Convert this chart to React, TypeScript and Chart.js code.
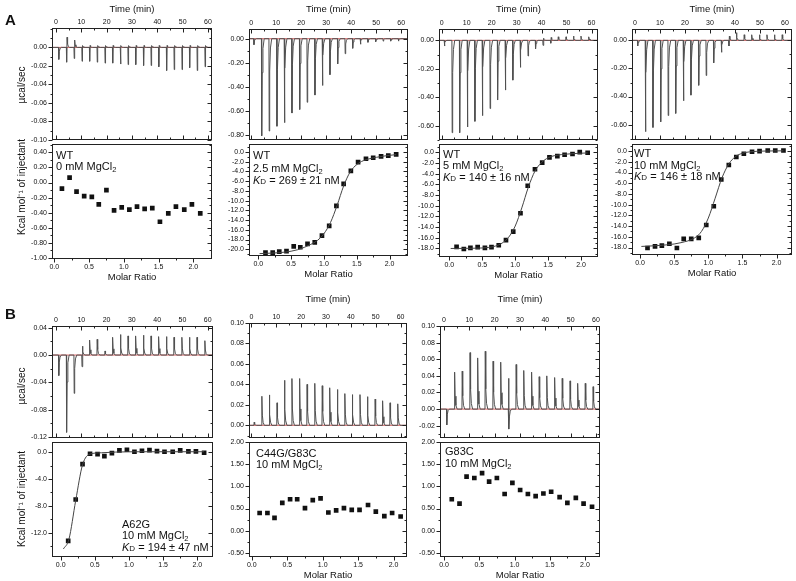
import React, { useEffect, useRef } from 'react';
import { Chart, registerables } from 'chart.js';
Chart.register(...registerables);

const FONT = "'Liberation Sans', Arial, Helvetica, sans-serif";

// ---------------- data ----------------
const injTimes = [1.0, 4.1, 7.1, 10.2, 13.2, 16.2, 19.3, 22.3, 25.4, 28.4, 31.4, 34.5, 37.5, 40.5, 43.6, 46.6, 49.7, 52.7, 55.7, 58.8];
const molarRatio = [0.11, 0.22, 0.32, 0.43, 0.54, 0.64, 0.75, 0.86, 0.97, 1.08, 1.19, 1.30, 1.41, 1.52, 1.64, 1.75, 1.87, 1.98, 2.10];

// raw thermogram peak heights (µcal/sec) per injection
const a1Peaks = [-0.013, -0.016, -0.012, -0.015, -0.015, -0.016, -0.017, -0.017, -0.018, -0.0186, -0.0186, -0.0196, -0.0196, -0.021, -0.025, -0.024, -0.024, -0.022, -0.025, -0.021];
const a1Peaks2 = [0, 0.011, 0.008, 0.002, 0.002, 0.002, 0.002, 0.002, 0.002, 0.002, 0.002, 0.002, 0.002, 0.002, 0.002, 0.002, 0.002, 0.002, 0.002, 0.002];
const a2Peaks = [-0.05, -0.81, -0.77, -0.73, -0.70, -0.62, -0.59, -0.53, -0.47, -0.39, -0.30, -0.21, -0.125, -0.08, -0.046, -0.03, -0.025, -0.02, -0.02, -0.02];
const a3Peaks = [-0.04, -0.65, -0.65, -0.61, -0.57, -0.53, -0.48, -0.42, -0.35, -0.28, -0.19, -0.11, -0.06, -0.035, -0.02, 0.025, 0.025, 0.03, 0.03, 0.025];
const a3Peaks2 = [0, 0, 0, 0, 0, 0, 0, 0, 0, 0, 0, 0, 0, 0.015, 0.02, 0, 0, 0, 0, 0];
const a4Peaks = [-0.04, -0.65, -0.62, -0.58, -0.535, -0.52, -0.43, -0.39, -0.32, -0.25, -0.16, -0.085, -0.04, 0.055, 0.04, 0.04, 0.04, 0.04, 0.04, 0.04];
const a4Peaks2 = [0, 0, 0, 0, 0, 0, 0, 0, 0, 0, 0, 0, 0.03, 0, 0, 0, 0, 0, 0, 0];
const b1Peaks = [-0.03, -0.113, -0.056, -0.017, 0.022, 0.023, 0.006, 0.026, 0.030, 0.028, 0.028, 0.029, 0.028, 0.027, 0.027, 0.026, 0.026, 0.026, 0.026, 0.021];
const b1Peaks2 = [0, 0, 0, 0.013, 0, 0, 0, 0, 0, 0, 0, 0, 0, 0, 0, 0, 0, 0, 0, 0];
const b2Peaks = [0.003, 0.0284, 0.0297, 0.022, 0.044, 0.0457, 0.0457, 0.040, 0.041, 0.0387, 0.0367, 0.035, 0.031, 0.030, 0.030, 0.028, 0.0256, 0.024, 0.022, 0.021];
const b3Peaks = [-0.019, 0.0445, 0.0457, 0.068, 0.0616, 0.0696, 0.0577, 0.0565, 0.037, 0.0537, 0.0465, 0.0445, 0.039, 0.040, 0.038, 0.037, 0.034, 0.031, 0.031, 0.027];
const b3Peaks2 = [0, 0, 0, 0, 0, 0, 0, 0, -0.024, 0, 0, 0, 0, 0, 0, 0, 0, 0, 0, 0];

// integrated heats (kcal/mol of injectant)
const a1Heat = [-0.08, 0.065, -0.12, -0.18, -0.19, -0.29, -0.10, -0.37, -0.33, -0.36, -0.32, -0.35, -0.34, -0.52, -0.41, -0.32, -0.36, -0.29, -0.41];
const a2Heat = [-20.7, -20.7, -20.5, -20.4, -19.4, -19.6, -18.9, -18.6, -17.2, -15.2, -11.1, -6.55, -3.9, -2.1, -1.4, -1.2, -0.9, -0.75, -0.5];
const a3Heat = [-17.7, -18.1, -17.9, -17.75, -17.9, -17.75, -17.4, -16.45, -14.85, -11.4, -6.25, -3.15, -1.9, -0.93, -0.68, -0.43, -0.3, 0.06, -0.06];
const a4Heat = [-18.1, -17.8, -17.65, -17.3, -18.1, -16.4, -16.4, -16.2, -13.8, -10.3, -5.3, -2.6, -1.1, -0.5, -0.12, 0, 0.12, 0.12, 0.12];
const b1Heat = [-13.2, -7.05, -1.8, -0.25, -0.3, -0.6, -0.15, 0.25, 0.35, 0.05, 0.2, 0.3, 0.15, 0.05, 0.05, 0.25, 0.1, 0.1, -0.1];
const b2Heat = [0.40, 0.40, 0.29, 0.63, 0.71, 0.71, 0.51, 0.69, 0.73, 0.41, 0.46, 0.51, 0.47, 0.47, 0.58, 0.43, 0.33, 0.40, 0.32];
const b3Heat = [0.71, 0.61, 1.22, 1.19, 1.30, 1.11, 1.19, 0.83, 1.08, 0.92, 0.83, 0.78, 0.84, 0.88, 0.76, 0.63, 0.74, 0.61, 0.54];

// fitted curves
const a2FitX = [0.02, 0.2, 0.4, 0.6, 0.8, 0.9, 1.0, 1.1, 1.2, 1.3, 1.4, 1.5, 1.6, 1.8, 2.0, 2.1];
const a2FitY = [-20.9, -20.8, -20.6, -20.1, -19.0, -18.2, -16.8, -14.5, -11.0, -7.0, -4.1, -2.6, -1.8, -1.1, -0.7, -0.55];
const a3FitX = [0.02, 0.4, 0.6, 0.7, 0.8, 0.9, 1.0, 1.1, 1.2, 1.3, 1.4, 1.5, 1.6, 1.8, 2.0, 2.1];
const a3FitY = [-18.0, -17.95, -17.8, -17.55, -17.0, -15.9, -13.8, -10.4, -6.5, -3.5, -1.9, -1.0, -0.6, -0.3, -0.15, -0.1];
const a4FitX = [0.02, 0.4, 0.6, 0.8, 0.9, 1.0, 1.1, 1.2, 1.3, 1.4, 1.5, 1.6, 1.8, 2.1];
const a4FitY = [-17.8, -17.5, -17.1, -16.2, -15.0, -12.5, -8.8, -5.0, -2.4, -1.0, -0.4, -0.15, 0.0, 0.05];
const b1FitX = [0.04, 0.12, 0.22, 0.32, 0.43, 0.6, 0.8, 1.2, 2.1];
const b1FitY = [-14.4, -13.0, -7.2, -1.9, -0.3, -0.1, 0.0, 0.05, 0.05];

// tick values
const timeMajor = [0, 10, 20, 30, 40, 50, 60];
const timeMinor = [5, 15, 25, 35, 45, 55];
const molarMajor = [0, 0.5, 1, 1.5, 2];
const molarMinor = [0.25, 0.75, 1.25, 1.75];
const a1RawMajor = [-0.1, -0.08, -0.06, -0.04, -0.02, 0];
const a1RawMinor = [-0.09, -0.07, -0.05, -0.03, -0.01, 0.01, 0.02];
const a2RawMajor = [-0.8, -0.6, -0.4, -0.2, 0];
const a2RawMinor = [-0.7, -0.5, -0.3, -0.1];
const a34RawMajor = [-0.6, -0.4, -0.2, 0];
const a34RawMinor = [-0.7, -0.5, -0.3, -0.1];
const b1RawMajor = [-0.12, -0.08, -0.04, 0, 0.04];
const b1RawMinor = [-0.1, -0.06, -0.02, 0.02];
const b2RawMajor = [0, 0.02, 0.04, 0.06, 0.08, 0.1];
const b2RawMinor = [-0.01, 0.01, 0.03, 0.05, 0.07, 0.09];
const b3RawMajor = [-0.02, 0, 0.02, 0.04, 0.06, 0.08, 0.1];
const b3RawMinor = [-0.03, -0.01, 0.01, 0.03, 0.05, 0.07, 0.09];
const a1HeatMajor = [-1, -0.8, -0.6, -0.4, -0.2, 0, 0.2, 0.4];
const a1HeatMinor = [-0.9, -0.7, -0.5, -0.3, -0.1, 0.1, 0.3, 0.5];
const kcal20Major = [-20, -18, -16, -14, -12, -10, -8, -6, -4, -2, 0];
const kcal18Major = [-18, -16, -14, -12, -10, -8, -6, -4, -2, 0];
const kcalOddMinor = [-21, -19, -17, -15, -13, -11, -9, -7, -5, -3, -1, 1];
const b1HeatMajor = [-12, -8, -4, 0];
const b1HeatMinor = [-14, -10, -6, -2];
const bHeatMajor = [-0.5, 0, 0.5, 1, 1.5, 2];
const bHeatMinor = [-0.25, 0.25, 0.75, 1.25, 1.75];

// ---------------- helpers ----------------
type Pt = { x: number; y: number };
interface AxisSpec { min: number; max: number; major: number[]; minor: number[]; dec: number; title?: string; titleAt?: number }
interface NotePart { t: string; italic?: boolean; size?: number; dy?: number }
interface PanelSpec {
  kind: 'raw' | 'iso';
  rowTop: number;
  l: number; t: number; r: number; b: number;
  x: AxisSpec; y: AxisSpec;
  datasets: any[];
  notes?: { x: number; y: number; gap: number; lines: NotePart[][] };
}

function rawTrace(xmin: number, xmax: number, peaks: number[], peaks2?: number[]): Pt[] {
  const pts: Pt[] = [{ x: xmin, y: 0 }];
  injTimes.forEach((t, i) => {
    const p = peaks[i];
    const q = peaks2 ? peaks2[i] : 0;
    pts.push({ x: t - 0.03, y: 0 });
    pts.push({ x: t + 0.08, y: p });
    let last = p;
    let tt = t + 0.08;
    if (q) { tt = t + 0.25; pts.push({ x: tt, y: q }); last = q; }
    pts.push({ x: tt + 0.2, y: last * 0.35 });
    pts.push({ x: tt + 0.5, y: last * 0.1 });
    pts.push({ x: tt + 1.0, y: 0 });
  });
  pts.push({ x: xmax, y: 0 });
  return pts;
}

function rawSets(xmin: number, xmax: number, peaks: number[], peaks2?: number[]) {
  return [
    { data: rawTrace(xmin, xmax, peaks, peaks2), borderColor: '#505050', borderWidth: 1, pointRadius: 0, tension: 0 },
    { data: [{ x: xmin, y: 0 }, { x: xmax, y: 0 }], borderColor: 'rgba(215,70,70,0.85)', borderWidth: 1, pointRadius: 0 },
  ];
}

function isoSets(heat: number[], fitX?: number[], fitY?: number[]) {
  const sets: any[] = [];
  if (fitX && fitY) {
    sets.push({ data: fitX.map((x, i) => ({ x, y: fitY[i] })), borderColor: '#444', borderWidth: 1, pointRadius: 0, cubicInterpolationMode: 'monotone' });
  }
  sets.push({ data: molarRatio.map((x, i) => ({ x, y: heat[i] })), showLine: false, pointStyle: 'rect', pointRadius: 3.3, borderWidth: 0, backgroundColor: '#111', borderColor: '#111' });
  return sets;
}

const mg = (n: string): NotePart[] => [{ t: n + ' mM MgCl' }, { t: '2', size: 7.5, dy: 2 }];
const kd = (s: string): NotePart[] => [{ t: 'K', italic: true }, { t: 'D', size: 8 }, { t: ' = ' + s + ' nM' }];

const timeAx = (min: number, max: number, title: boolean): AxisSpec => ({ min, max, major: timeMajor, minor: timeMinor, dec: 0, title: title ? 'Time (min)' : undefined });
const molAx = (min: number, max: number, title: boolean): AxisSpec => ({ min, max, major: molarMajor, minor: molarMinor, dec: 1, title: title ? 'Molar Ratio' : undefined });

const UCAL = 'µcal/sec';
const KCAL = 'Kcal mol⁻¹ of injectant';

const SPECS: PanelSpec[] = [
  // ----- row A raw -----
  { kind: 'raw', rowTop: 0, l: 52, t: 28, r: 212, b: 143, x: timeAx(-1.6, 61.6, true), y: { min: -0.1, max: 0.021, major: a1RawMajor, minor: a1RawMinor, dec: 2, title: UCAL, titleAt: 85 }, datasets: rawSets(-1.6, 61.6, a1Peaks, a1Peaks2) },
  { kind: 'raw', rowTop: 0, l: 249, t: 29, r: 408, b: 143, x: timeAx(-0.9, 62.7, true), y: { min: -0.843, max: 0.081, major: a2RawMajor, minor: a2RawMinor, dec: 2 }, datasets: rawSets(-0.9, 62.7, a2Peaks) },
  { kind: 'raw', rowTop: 0, l: 439, t: 29, r: 598, b: 143, x: timeAx(-1.1, 62.6, true), y: { min: -0.70, max: 0.08, major: a34RawMajor, minor: a34RawMinor, dec: 2 }, datasets: rawSets(-1.1, 62.6, a3Peaks, a3Peaks2) },
  { kind: 'raw', rowTop: 0, l: 632, t: 29, r: 792, b: 143, x: timeAx(-1.2, 62.8, true), y: { min: -0.708, max: 0.081, major: a34RawMajor, minor: a34RawMinor, dec: 2 }, datasets: rawSets(-1.2, 62.8, a4Peaks, a4Peaks2) },
  // ----- row A isotherms -----
  { kind: 'iso', rowTop: 0, l: 52, t: 143, r: 212, b: 259, x: molAx(-0.033, 2.269, true), y: { min: -1.015, max: 0.509, major: a1HeatMajor, minor: a1HeatMinor, dec: 2, title: KCAL, titleAt: 187 }, datasets: isoSets(a1Heat),
    notes: { x: 56, y: 159, gap: 11, lines: [[{ t: 'WT' }], mg('0')] } },
  { kind: 'iso', rowTop: 0, l: 249, t: 143, r: 408, b: 256, x: molAx(-0.141, 2.28, true), y: { min: -21.39, max: 1.59, major: kcal20Major, minor: kcalOddMinor, dec: 1 }, datasets: isoSets(a2Heat, a2FitX, a2FitY),
    notes: { x: 253, y: 159, gap: 12.5, lines: [[{ t: 'WT' }], mg('2.5'), kd('269 ± 21')] } },
  { kind: 'iso', rowTop: 0, l: 439, t: 143, r: 598, b: 257, x: molAx(-0.157, 2.257, true), y: { min: -19.6, max: 1.54, major: kcal18Major, minor: kcalOddMinor, dec: 1 }, datasets: isoSets(a3Heat, a3FitX, a3FitY),
    notes: { x: 443, y: 158, gap: 11.3, lines: [[{ t: 'WT' }], mg('5'), kd('140 ± 16')] } },
  { kind: 'iso', rowTop: 0, l: 632, t: 143, r: 792, b: 255, x: molAx(-0.117, 2.225, true), y: { min: -19.4, max: 1.29, major: kcal18Major, minor: kcalOddMinor, dec: 1 }, datasets: isoSets(a4Heat, a4FitX, a4FitY),
    notes: { x: 634, y: 157, gap: 11.5, lines: [[{ t: 'WT' }], mg('10'), kd('146 ± 18')] } },
  // ----- row B raw -----
  { kind: 'raw', rowTop: 290, l: 52, t: 326, r: 213, b: 441, x: timeAx(-1.6, 62.1, false), y: { min: -0.121, max: 0.0425, major: b1RawMajor, minor: b1RawMinor, dec: 2, title: UCAL, titleAt: 386 }, datasets: rawSets(-1.6, 62.1, b1Peaks, b1Peaks2) },
  { kind: 'raw', rowTop: 290, l: 249, t: 323, r: 407, b: 441, x: timeAx(-1.0, 62.6, true), y: { min: -0.0122, max: 0.10, major: b2RawMajor, minor: b2RawMinor, dec: 2 }, datasets: rawSets(-1.0, 62.6, b2Peaks) },
  { kind: 'raw', rowTop: 290, l: 440, t: 326, r: 600, b: 441, x: timeAx(-1.6, 61.6, true), y: { min: -0.0345, max: 0.10, major: b3RawMajor, minor: b3RawMinor, dec: 2 }, datasets: rawSets(-1.6, 61.6, b3Peaks, b3Peaks2) },
  // ----- row B isotherms -----
  { kind: 'iso', rowTop: 290, l: 52, t: 441, r: 213, b: 557, x: molAx(-0.127, 2.23, false), y: { min: -15.6, max: 1.47, major: b1HeatMajor, minor: b1HeatMinor, dec: 1, title: KCAL, titleAt: 499 }, datasets: isoSets(b1Heat, b1FitX, b1FitY),
    notes: { x: 122, y: 528, gap: 11.3, lines: [[{ t: 'A62G' }], mg('10'), kd('194 ± 47')] } },
  { kind: 'iso', rowTop: 290, l: 249, t: 441, r: 407, b: 557, x: molAx(-0.04, 2.19, true), y: { min: -0.595, max: 2.0, major: bHeatMajor, minor: bHeatMinor, dec: 2 }, datasets: isoSets(b2Heat),
    notes: { x: 256, y: 456.5, gap: 11, lines: [[{ t: 'C44G/G83C' }], mg('10')] } },
  { kind: 'iso', rowTop: 290, l: 440, t: 441, r: 600, b: 557, x: molAx(-0.057, 2.213, true), y: { min: -0.595, max: 2.0, major: bHeatMajor, minor: bHeatMinor, dec: 2 }, datasets: isoSets(b3Heat),
    notes: { x: 445, y: 455, gap: 11.5, lines: [[{ t: 'G83C' }], mg('10')] } },
];

const PADL = 46;
const PADR = 8;
const YTITLE_X = 22;

function geom(s: PanelSpec) {
  const raw = s.kind === 'raw';
  const padT = raw ? s.t - s.rowTop : 8;
  const padB = raw ? 6 : 28;
  const W = PADL + (s.r - s.l) + PADR;
  const H = padT + (s.b - s.t) + padB;
  return { padT, padB, W, H, left: s.l - PADL, top: s.t - padT };
}

function fmt(v: number, d: number) {
  const r = Math.abs(v) < 1e-9 ? 0 : v;
  return r.toFixed(d);
}

function decoPlugin(s: PanelSpec, offX: number, offY: number) {
  return {
    id: 'deco',
    afterDraw(chart: any) {
      const { ctx, chartArea: ca, scales } = chart;
      const xs = scales.x, ys = scales.y;
      const raw = s.kind === 'raw';
      ctx.save();
      ctx.strokeStyle = '#222';
      ctx.lineWidth = 1;
      const L = Math.round(ca.left) + 0.5, R = Math.round(ca.right) - 0.5;
      const T = Math.round(ca.top) + 0.5, B = Math.round(ca.bottom) - 0.5;
      ctx.beginPath();
      const xt = (vals: number[], len: number) => {
        vals.forEach(v => {
          if (v < s.x.min || v > s.x.max) return;
          const p = Math.round(xs.getPixelForValue(v)) + 0.5;
          if (raw) {
            ctx.moveTo(p, T); ctx.lineTo(p, T + len);
            ctx.moveTo(p, B); ctx.lineTo(p, B - len);
          } else {
            ctx.moveTo(p, B); ctx.lineTo(p, B + len);
          }
        });
      };
      const yt = (vals: number[], len: number) => {
        vals.forEach(v => {
          if (v < s.y.min - 1e-9 || v > s.y.max + 1e-9) return;
          const p = Math.round(ys.getPixelForValue(v)) + 0.5;
          ctx.moveTo(L, p); ctx.lineTo(L - len, p);
          ctx.moveTo(R, p); ctx.lineTo(R - len, p);
        });
      };
      xt(s.x.major, 4); xt(s.x.minor, 2);
      yt(s.y.major, 4); yt(s.y.minor, 2);
      ctx.stroke();
      ctx.strokeRect(L, T, R - L, B - T);
      ctx.fillStyle = '#111';
      if (s.y.title) {
        ctx.save();
        ctx.font = '10px ' + FONT;
        ctx.textAlign = 'center';
        ctx.textBaseline = 'middle';
        ctx.translate(YTITLE_X - offX, (s.y.titleAt ?? (s.t + s.b) / 2) - offY);
        ctx.rotate(-Math.PI / 2);
        ctx.fillText(s.y.title, 0, 0);
        ctx.restore();
      }
      if (s.notes) {
        const n = s.notes;
        ctx.textBaseline = 'alphabetic';
        ctx.textAlign = 'left';
        n.lines.forEach((line, li) => {
          let x = n.x - offX;
          const y = n.y + li * n.gap - offY;
          line.forEach(part => {
            const size = part.size || 11;
            ctx.font = (part.italic ? 'italic ' : '') + size + 'px ' + FONT;
            ctx.fillText(part.t, x, y + (part.dy || 0));
            x += ctx.measureText(part.t).width;
          });
        });
      }
      ctx.restore();
    },
  };
}

function buildConfig(s: PanelSpec) {
  const g = geom(s);
  const raw = s.kind === 'raw';
  const tickFont = { family: FONT, size: 7 };
  return {
    type: 'line',
    data: { datasets: s.datasets },
    options: {
      animation: false,
      responsive: false,
      devicePixelRatio: 1,
      events: [],
      layout: { padding: { left: 0, right: PADR, top: raw ? 0 : g.padT, bottom: raw ? g.padB : 0 } },
      plugins: { legend: { display: false }, tooltip: { enabled: false } },
      scales: {
        x: {
          type: 'linear',
          position: raw ? 'top' : 'bottom',
          min: s.x.min, max: s.x.max,
          afterBuildTicks: (sc: any) => { sc.ticks = s.x.major.map(v => ({ value: v })); },
          afterFit: (sc: any) => { sc.height = raw ? g.padT : g.padB; },
          ticks: { font: tickFont, color: '#111', padding: raw ? 2 : 3.8, maxRotation: 0, autoSkip: false, callback: (v: number) => fmt(v, s.x.dec) },
          grid: { display: false, drawTicks: false },
          border: { display: false },
          title: { display: !!s.x.title, text: s.x.title || '', color: '#111', font: { family: FONT, size: 9.5 }, padding: raw ? { top: 3.3, bottom: 0 } : { top: 0, bottom: 4.3 } },
        },
        y: {
          type: 'linear',
          position: 'left',
          min: s.y.min, max: s.y.max,
          afterBuildTicks: (sc: any) => { sc.ticks = s.y.major.map(v => ({ value: v })); },
          afterFit: (sc: any) => { sc.width = PADL; },
          ticks: { font: tickFont, color: '#111', padding: 5, autoSkip: false, callback: (v: number) => fmt(v, s.y.dec) },
          grid: { display: false, drawTicks: false },
          border: { display: false },
          title: { display: false },
        },
      },
    },
    plugins: [decoPlugin(s, g.left, g.top)],
  };
}

export default function App() {
  const refs = useRef<(HTMLCanvasElement | null)[]>([]);
  useEffect(() => {
    const charts = SPECS.map((s, i) => new Chart(refs.current[i] as HTMLCanvasElement, buildConfig(s) as any));
    return () => charts.forEach(c => c.destroy());
  }, []);
  const letter = { position: 'absolute' as const, left: 5, font: 'bold 15px ' + FONT, lineHeight: '15px', color: '#111' };
  return (
    <div style={{ position: 'absolute', left: 0, top: 0, width: 796, height: 581, background: '#fff', overflow: 'hidden' }}>
      {SPECS.map((s, i) => {
        const g = geom(s);
        return (
          <canvas key={i} ref={el => { refs.current[i] = el; }} width={g.W} height={g.H}
            style={{ position: 'absolute', left: g.left, top: g.top, width: g.W, height: g.H }} />
        );
      })}
      <div style={{ ...letter, top: 12 }}>A</div>
      <div style={{ ...letter, top: 306 }}>B</div>
    </div>
  );
}
